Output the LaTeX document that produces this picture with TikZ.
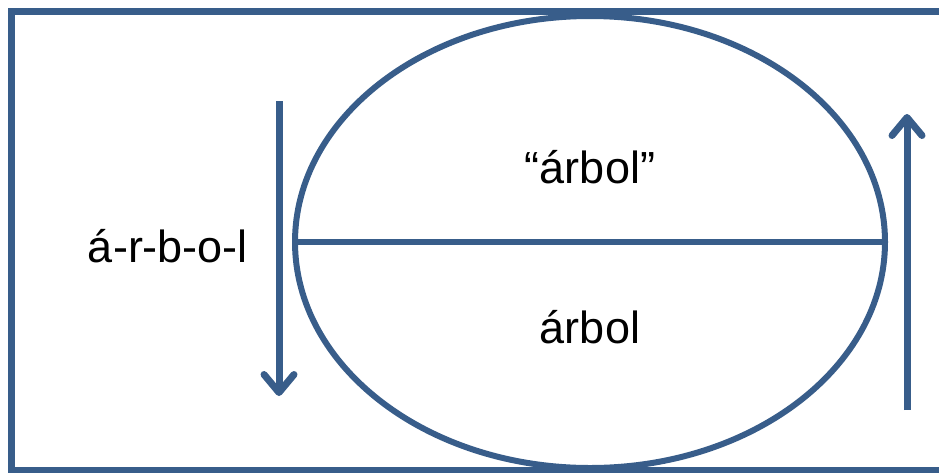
\documentclass[tikz,border=0pt]{standalone}
\usepackage{fontspec}
\setmainfont{Liberation Sans}
\usetikzlibrary{arrows.meta,shapes.geometric}
\definecolor{frameblue}{RGB}{56,93,138}
\begin{document}
\begin{tikzpicture}[x=1pt,y=-1pt,
  line/.style={draw=frameblue,line width=7pt},
  arr/.style={line,-{Straight Barb[length=18pt,width=30pt,line width=7pt,round]}},
  lbl/.style={font=\fontsize{45}{54}\selectfont,inner sep=0pt}]
\useasboundingbox (0,0) rectangle (939,472);
\draw[line] (960,11) -- (11,11) -- (11,470) -- (960,470);
\node[draw=frameblue,line width=6pt,ellipse,minimum width=590pt,minimum height=452pt,inner sep=0pt] (ell) at (590,242) {};
\draw[line,line width=6pt] (ell.west) -- (ell.east);
\coordinate (la1) at (279,101);
\coordinate (la2) at (279,396);
\coordinate (ra1) at (907,410);
\coordinate (ra2) at (907,114);
\draw[arr] (la1) -- (la2);
\draw[arr] (ra1) -- (ra2);
\node[lbl] (t1) at (590,167) {“árbol”};
\node[lbl] (t2) at (590,327) {árbol};
\node[lbl] (t3) at (168,246) {á-r-b-o-l};
\end{tikzpicture}
\end{document}
